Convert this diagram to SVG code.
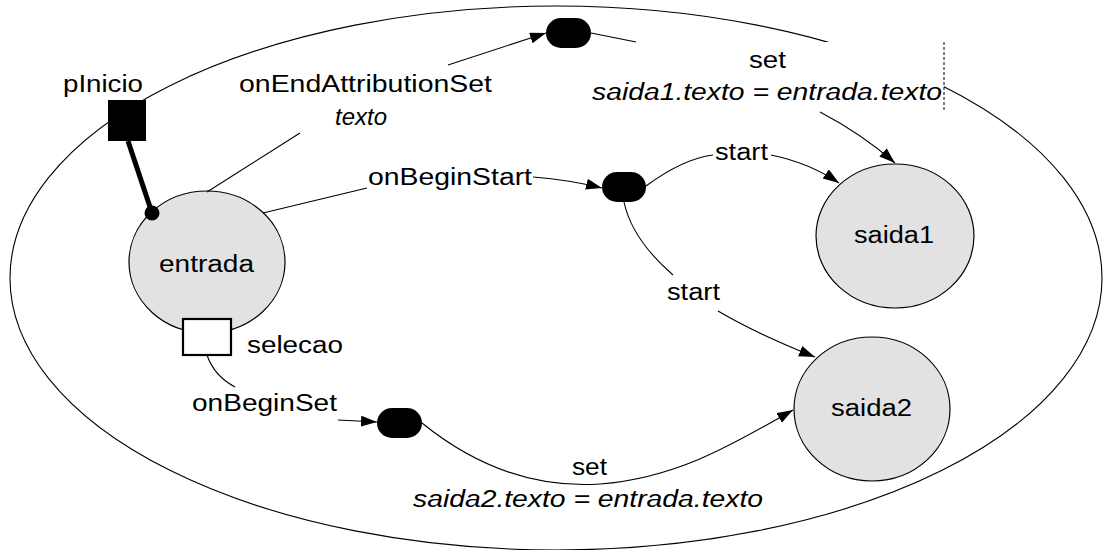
<svg xmlns="http://www.w3.org/2000/svg" width="1103" height="550" viewBox="0 0 1103 550">
  <style>
    text { font-family: "Liberation Sans", Arial, sans-serif; font-size: 23px; fill: #000; }
    .it { font-style: italic; }
    .state { fill: #e2e2e2; stroke: #000; stroke-width: 1.2; }
    .act { fill: #000; stroke: none; }
    .edge { fill: none; stroke: #000; stroke-width: 1.1; }
    .arrow { fill: none; stroke: #000; stroke-width: 1.1; marker-end: url(#tip); }
  </style>
  <defs>
    <marker id="tip" markerUnits="userSpaceOnUse" markerWidth="17" markerHeight="12" refX="16" refY="5.5" orient="auto">
      <path d="M0,0 L16,5.5 L0,11 Z" fill="#000"/>
    </marker>
  </defs>

  <rect width="1103" height="550" fill="#fff"/>

  <!-- outer context -->
  <g id="contexto">
    <ellipse cx="556" cy="278" rx="546" ry="272" fill="none" stroke="#000" stroke-width="1.1"/>
  </g>

  <!-- label box of the saida1 assignment hides the context border -->
  <rect x="592" y="42" width="352" height="70" fill="#fff"/>
  <line x1="944" y1="42" x2="944" y2="112" stroke="#000" stroke-width="1" stroke-dasharray="3,2"/>

  <g id="entrada">
    <ellipse class="state" cx="207" cy="262" rx="78" ry="71"/>
    <text x="159" y="272" textLength="95" lengthAdjust="spacingAndGlyphs">entrada</text>
  </g>

  <g id="pInicio">
    <rect x="108" y="100" width="38" height="41" fill="#000"/>
    <text x="63" y="92" textLength="80" lengthAdjust="spacingAndGlyphs">pInicio</text>
  </g>

  <g id="selecao">
    <rect x="183" y="319" width="48" height="36" fill="#fff" stroke="#000" stroke-width="2.2"/>
    <text x="247" y="353" textLength="96" lengthAdjust="spacingAndGlyphs">selecao</text>
  </g>

  <g id="saida1">
    <ellipse class="state" cx="895" cy="236" rx="79" ry="72"/>
    <text x="854" y="243" textLength="80" lengthAdjust="spacingAndGlyphs">saida1</text>
  </g>

  <g id="saida2">
    <ellipse class="state" cx="872" cy="409" rx="78" ry="72"/>
    <text x="831" y="416" textLength="81" lengthAdjust="spacingAndGlyphs">saida2</text>
  </g>

  <g id="acao-set1">
    <rect class="act" x="546" y="18" width="45" height="30" rx="15"/>
  </g>
  <g id="acao-start">
    <rect class="act" x="602" y="172" width="44" height="30" rx="15"/>
  </g>
  <g id="acao-set2">
    <rect class="act" x="377" y="408" width="45" height="30" rx="15"/>
  </g>

  <g id="connectors">
    <!-- pInicio port mapping -->
    <line x1="128" y1="141" x2="152" y2="213" stroke="#000" stroke-width="5"/>
    <circle cx="152" cy="213" r="7.5" fill="#000"/>

    <!-- onEndAttributionSet -> set -->
    <path class="edge" d="M207,192 L300,133"/>
    <path class="arrow" d="M448,65 L546,33"/>
    <path class="edge" d="M591,33 L636,42"/>
    <path class="arrow" d="M820,112 Q862,134 895,163"/>

    <!-- onBeginStart -> start -->
    <path class="edge" d="M263,213 L367,188"/>
    <path class="arrow" d="M533,177 Q570,180 602,188"/>
    <path class="edge" d="M646,186 C665,172 690,158 713,155"/>
    <path class="arrow" d="M771,155 C795,160 820,170 839,183"/>
    <path class="edge" d="M624,202 C630,230 650,255 673,275"/>
    <path class="arrow" d="M718,311 C750,330 785,345 815,357"/>

    <!-- onBeginSet -> set -->
    <path class="edge" d="M207,355 C212,370 222,380 235,387"/>
    <path class="arrow" d="M338,420 L377,422"/>
    <path class="arrow" d="M422,423 C480,470 540,488 600,484 C680,478 740,440 793,410"/>
  </g>

  <g id="labels">
    <text x="239" y="92" textLength="253" lengthAdjust="spacingAndGlyphs">onEndAttributionSet</text>
    <text class="it" x="335" y="125" textLength="52" lengthAdjust="spacingAndGlyphs">texto</text>
    <text x="749" y="68" textLength="37" lengthAdjust="spacingAndGlyphs">set</text>
    <text class="it" x="592" y="100" textLength="350" lengthAdjust="spacingAndGlyphs">saida1.texto = entrada.texto</text>
    <text x="368" y="185" textLength="164" lengthAdjust="spacingAndGlyphs">onBeginStart</text>
    <text x="715" y="160" textLength="53" lengthAdjust="spacingAndGlyphs">start</text>
    <text x="667" y="300" textLength="53" lengthAdjust="spacingAndGlyphs">start</text>
    <text x="192" y="411" textLength="145" lengthAdjust="spacingAndGlyphs">onBeginSet</text>
    <text x="572" y="475" textLength="35" lengthAdjust="spacingAndGlyphs">set</text>
    <text class="it" x="413" y="507" textLength="350" lengthAdjust="spacingAndGlyphs">saida2.texto = entrada.texto</text>
  </g>
</svg>
